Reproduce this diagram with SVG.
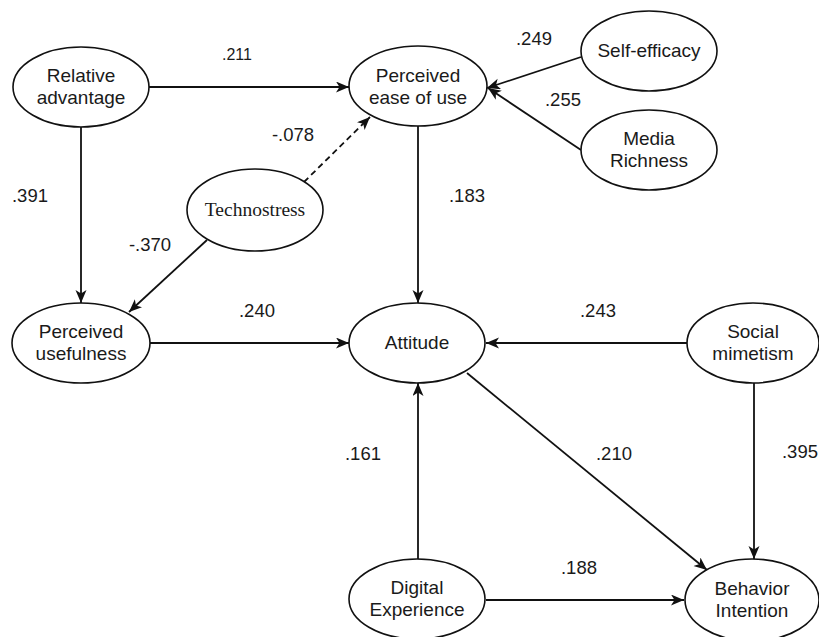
<svg xmlns="http://www.w3.org/2000/svg" width="819" height="637" viewBox="0 0 819 637">
<style>
.node ellipse{fill:#fff;stroke:#111;stroke-width:1.6}
.node text{font-family:"Liberation Sans",Arial,sans-serif;font-size:19px;fill:#1a1a1a;text-anchor:middle}
.node text.serif{font-family:"Liberation Serif","Times New Roman",serif;font-size:19.5px}
.edge{stroke:#111;stroke-width:1.8;fill:none;marker-end:url(#arr)}
.dash{stroke-dasharray:6 4}
.lbl{font-family:"Liberation Sans",Arial,sans-serif;font-size:18.5px;fill:#1a1a1a;text-anchor:middle}
</style>
<defs>
<marker id="arr" markerUnits="userSpaceOnUse" markerWidth="15" markerHeight="12" refX="13" refY="5.5" orient="auto">
<path d="M0,0 L13,5.5 L0,11 L3.5,5.5 Z" fill="#111"/>
</marker>
</defs>
<rect width="819" height="637" fill="#fff"/>
<g id="connectors">
<line class="edge" x1="149" y1="87" x2="349" y2="87"/>
<line class="edge" x1="81" y1="127" x2="81" y2="303"/>
<line class="edge dash" x1="304" y1="182" x2="370" y2="117"/>
<line class="edge" x1="207" y1="240" x2="129" y2="312"/>
<line class="edge" x1="418" y1="126" x2="418" y2="303"/>
<line class="edge" x1="581" y1="57" x2="487" y2="88"/>
<line class="edge" x1="581" y1="150" x2="488" y2="88"/>
<line class="edge" x1="150" y1="343" x2="349" y2="343"/>
<line class="edge" x1="687" y1="343" x2="486" y2="343"/>
<line class="edge" x1="467" y1="373" x2="707" y2="570"/>
<line class="edge" x1="754" y1="383" x2="754" y2="559"/>
<line class="edge" x1="418" y1="559" x2="418" y2="383"/>
<line class="edge" x1="486" y1="600" x2="684" y2="600"/>
<text class="lbl" x="237" y="59.5" style="font-size:16px">.211</text>
<text class="lbl" x="30" y="202">.391</text>
<text class="lbl" x="293" y="141">-.078</text>
<text class="lbl" x="150" y="251">-.370</text>
<text class="lbl" x="467" y="202">.183</text>
<text class="lbl" x="534" y="45">.249</text>
<text class="lbl" x="563" y="106">.255</text>
<text class="lbl" x="257" y="317">.240</text>
<text class="lbl" x="598" y="317">.243</text>
<text class="lbl" x="363" y="460">.161</text>
<text class="lbl" x="614" y="460">.210</text>
<text class="lbl" x="818" y="458" style="text-anchor:end">.395</text>
<text class="lbl" x="579" y="574">.188</text>
</g>
<g id="relative-advantage" class="node"><ellipse cx="81" cy="87" rx="68" ry="40"/><text x="81" y="82">Relative</text><text x="81" y="104">advantage</text></g>
<g id="perceived-ease" class="node"><ellipse cx="418" cy="86" rx="69" ry="40"/><text x="418" y="81.5">Perceived</text><text x="418" y="103.5">ease of use</text></g>
<g id="self-efficacy" class="node"><ellipse cx="649" cy="51" rx="68" ry="40"/><text x="649" y="57">Self-efficacy</text></g>
<g id="media-richness" class="node"><ellipse cx="649" cy="150" rx="68" ry="40"/><text x="649" y="145">Media</text><text x="649" y="167">Richness</text></g>
<g id="technostress" class="node"><ellipse cx="255" cy="210" rx="68" ry="41"/><text class="serif" x="255" y="216">Technostress</text></g>
<g id="perceived-usefulness" class="node"><ellipse cx="81" cy="343" rx="69" ry="40"/><text x="81" y="338">Perceived</text><text x="81" y="360">usefulness</text></g>
<g id="attitude" class="node"><ellipse cx="417" cy="343" rx="68" ry="40"/><text x="417" y="349">Attitude</text></g>
<g id="social-mimetism" class="node"><ellipse cx="753" cy="343" rx="66" ry="40"/><text x="753" y="338">Social</text><text x="753" y="360">mimetism</text></g>
<g id="digital-experience" class="node"><ellipse cx="417" cy="599" rx="68" ry="40"/><text x="417" y="594">Digital</text><text x="417" y="616">Experience</text></g>
<g id="behavior-intention" class="node"><ellipse cx="752" cy="600" rx="67" ry="41"/><text x="752" y="595">Behavior</text><text x="752" y="617">Intention</text></g>
</svg>
